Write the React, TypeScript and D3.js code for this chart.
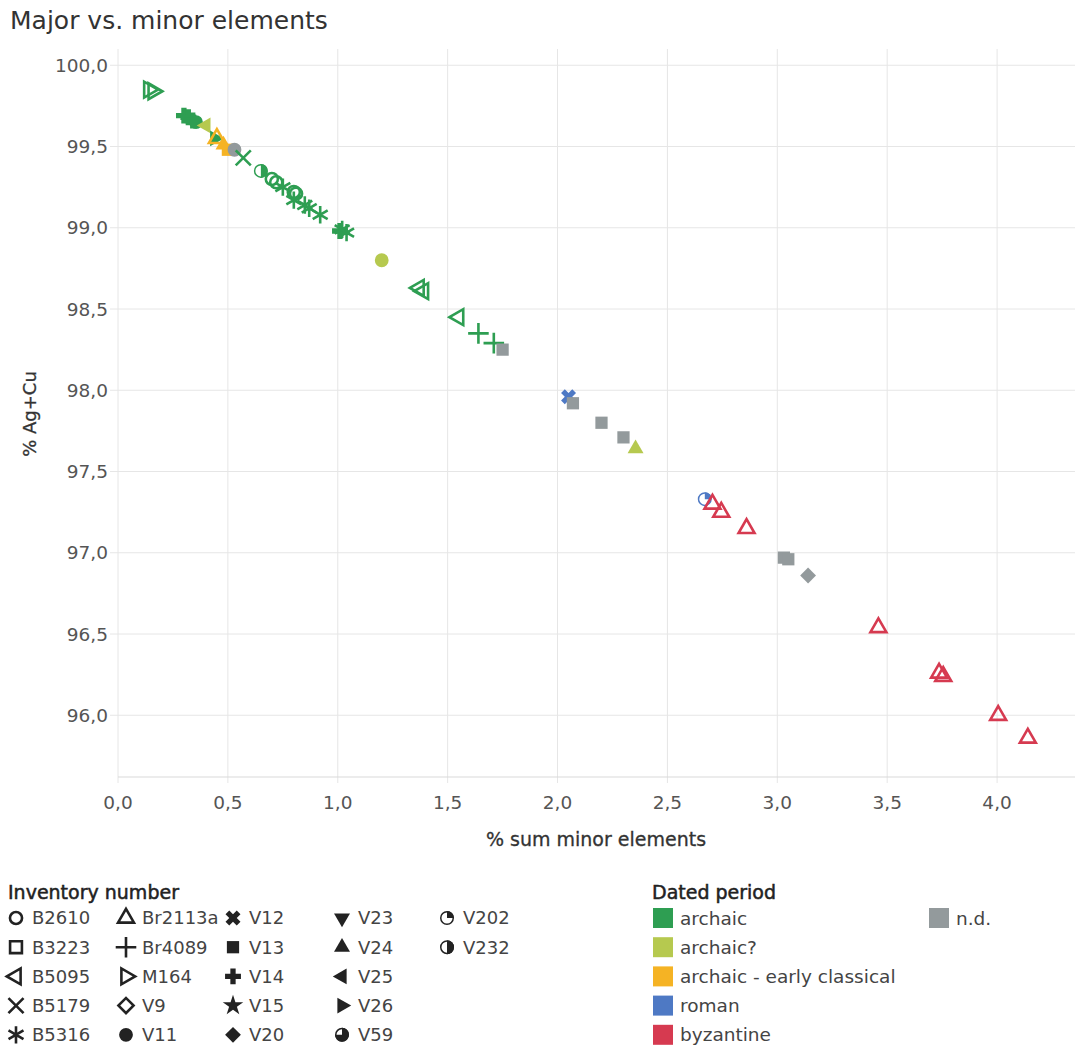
import * as d3 from "d3";

// values
const minorSum = [
  0.14, 0.16, 0.30, 0.32, 0.34, 0.355, 0.40, 0.44, 0.45, 0.48, 0.50, 0.53,
  0.57, 0.65, 0.70, 0.72, 0.75, 0.80, 0.81, 0.80, 0.85, 0.87, 0.92,
  1.01, 1.02, 1.04, 1.20, 1.37, 1.39, 1.55, 1.64, 1.71, 1.75,
  2.05, 2.07, 2.20, 2.30, 2.355, 2.67, 2.705, 2.745, 2.86, 3.03, 3.05, 3.14,
  3.46, 3.736, 3.755, 4.005, 4.14,
];
const agCu = [
  99.85, 99.84, 99.69, 99.68, 99.66, 99.65, 99.63, 99.55, 99.55, 99.51, 99.48, 99.48,
  99.43, 99.35, 99.30, 99.28, 99.25, 99.22, 99.21, 99.17, 99.14, 99.12, 99.08,
  98.98, 98.99, 98.97, 98.80, 98.63, 98.61, 98.45, 98.35, 98.29, 98.25,
  97.96, 97.92, 97.80, 97.71, 97.64, 97.33, 97.30, 97.25, 97.15, 96.97, 96.96, 96.86,
  96.54, 96.26, 96.24, 96.00, 95.86,
];
const inventory = [
  "M164", "M164", "V14", "V14", "V14", "V11", "V25", "V26", "Br2113a", "V24", "V13", "V11",
  "B5179", "V232", "B2610", "B2610", "B5316", "B2610", "B2610", "B5316", "B5316", "B5316", "B5316",
  "V14", "B5316", "B5316", "V11", "B5095", "B5095", "B5095", "Br4089", "Br4089", "V13",
  "V12", "V13", "V13", "V13", "V24", "V202", "Br2113a", "Br2113a", "Br2113a", "V13", "V13", "V20",
  "Br2113a", "Br2113a", "Br2113a", "Br2113a", "Br2113a",
];
const period = [
  "archaic", "archaic", "archaic", "archaic", "archaic", "archaic", "archaic?", "archaic",
  "archaic - early classical", "archaic - early classical", "archaic - early classical", "n.d.",
  "archaic", "archaic", "archaic", "archaic", "archaic", "archaic", "archaic", "archaic", "archaic", "archaic", "archaic",
  "archaic", "archaic", "archaic", "archaic?", "archaic", "archaic", "archaic", "archaic", "archaic", "n.d.",
  "roman", "n.d.", "n.d.", "n.d.", "archaic?", "roman", "byzantine", "byzantine", "byzantine", "n.d.", "n.d.", "n.d.",
  "byzantine", "byzantine", "byzantine", "byzantine", "byzantine",
];

const xTicks = [0, 0.5, 1, 1.5, 2, 2.5, 3, 3.5, 4];
const yTicks = [96, 96.5, 97, 97.5, 98, 98.5, 99, 99.5, 100];

const inventoryColumns = [
  ["B2610", "B3223", "B5095", "B5179", "B5316"],
  ["Br2113a", "Br4089", "M164", "V9", "V11"],
  ["V12", "V13", "V14", "V15", "V20"],
  ["V23", "V24", "V25", "V26", "V59"],
  ["V202", "V232"],
];
const periodColumns = [
  ["archaic", "archaic?", "archaic - early classical", "roman", "byzantine"],
  ["n.d."],
];
const periodColors = ["#2e9e52", "#b6c94f", "#f5b324", "#4e79c4", "#d63a50", "#939a9c"];

const colorScale = d3
  .scaleOrdinal<string, string>()
  .domain(["archaic", "archaic?", "archaic - early classical", "roman", "byzantine", "n.d."])
  .range(periodColors);

const FONT = "'DejaVu Sans', 'Noto Sans', sans-serif";

const width = 1075;
const height = 1047;

const x = d3.scaleLinear().domain([0, 4.35]).range([118, 1074]);
const y = d3.scaleLinear().domain([95.62, 100.1]).range([777, 49]);

const fmt = (v: number) => d3.format(".1f")(v).replace(".", ",");

type Spec = { sym?: d3.SymbolType; fill: boolean; rot?: number; size?: number; part?: number };
const shapes: Record<string, Spec> = {
  B2610: { sym: d3.symbolCircle, fill: false, size: 115 },
  B3223: { sym: d3.symbolSquare, fill: false, size: 140 },
  B5095: { sym: d3.symbolTriangle, fill: false, rot: -90, size: 110 },
  B5179: { sym: d3.symbolTimes, fill: false, size: 150 },
  B5316: { sym: d3.symbolAsterisk, fill: false, size: 210 },
  Br2113a: { sym: d3.symbolTriangle, fill: false, size: 110 },
  Br4089: { sym: d3.symbolPlus, fill: false, size: 140 },
  M164: { sym: d3.symbolTriangle, fill: false, rot: 90, size: 110 },
  V9: { sym: d3.symbolSquare, fill: false, rot: 45, size: 115 },
  V11: { sym: d3.symbolCircle, fill: true, size: 150 },
  V12: { sym: d3.symbolCross, fill: true, rot: 45, size: 140 },
  V13: { sym: d3.symbolSquare, fill: true, size: 150 },
  V14: { sym: d3.symbolCross, fill: true, size: 140 },
  V15: { sym: d3.symbolStar, fill: true, size: 130 },
  V20: { sym: d3.symbolSquare, fill: true, rot: 45, size: 125 },
  V23: { sym: d3.symbolTriangle, fill: true, rot: 180, size: 110 },
  V24: { sym: d3.symbolTriangle, fill: true, size: 110 },
  V25: { sym: d3.symbolTriangle, fill: true, rot: -90, size: 110 },
  V26: { sym: d3.symbolTriangle, fill: true, rot: 90, size: 110 },
  V59: { fill: false, part: 1.5 },
  V202: { fill: false, part: 0.5 },
  V232: { fill: false, part: 1 },
};

function Marker({ inv, color, cx, cy }: { inv: string; color: string; cx: number; cy: number }) {
  const s = shapes[inv];
  if (s.part !== undefined) {
    const r = 7;
    const wedge = d3.arc()({ innerRadius: 0, outerRadius: r, startAngle: 0, endAngle: s.part * Math.PI }) || "";
    return (
      <g transform={`translate(${cx},${cy})`}>
        <circle r={r - 0.75} fill="none" stroke={color} strokeWidth={1.5} />
        <path d={wedge} fill={color} />
      </g>
    );
  }
  const d = d3.symbol(s.sym!, s.size ?? 120)() || "";
  return (
    <path
      d={d}
      transform={`translate(${cx},${cy}) rotate(${s.rot ?? 0})`}
      fill={s.fill ? color : "none"}
      stroke={s.fill ? "none" : color}
      strokeWidth={s.fill ? 0 : 2.6}
      strokeLinejoin="miter"
    />
  );
}

export default function App() {
  const rowY = (i: number) => 918 + i * 29.2;
  const invColX = [16, 126, 233, 342, 447];
  return (
    <svg width={width} height={height} style={{ position: "absolute", left: 0, top: 0, fontFamily: FONT }}>
      <rect width={width} height={height} fill="#fff" />
      <text x={10} y={29} fontSize={25} fill="#333">Major vs. minor elements</text>

      {/* grid */}
      {xTicks.map((t) => (
        <line key={`gx${t}`} x1={x(t)} x2={x(t)} y1={49} y2={783} stroke="#e6e6e6" strokeWidth={1} />
      ))}
      {yTicks.map((t) => (
        <line key={`gy${t}`} x1={110} x2={width} y1={y(t)} y2={y(t)} stroke="#e6e6e6" strokeWidth={1} />
      ))}
      <line x1={118} x2={width} y1={777} y2={777} stroke="#d9d9d9" />

      {/* tick labels */}
      {yTicks.map((t) => (
        <text key={`ty${t}`} x={108} y={y(t)} dy="0.36em" textAnchor="end" fontSize={18.5} fill="#555">
          {fmt(t)}
        </text>
      ))}
      {xTicks.map((t) => (
        <text key={`tx${t}`} x={x(t)} y={802} dy="0.36em" textAnchor="middle" fontSize={18.5} fill="#555">
          {fmt(t)}
        </text>
      ))}
      <text x={596} y={846} textAnchor="middle" fontSize={19} fill="#333" stroke="#333" strokeWidth={0.3}>% sum minor elements</text>
      <text transform="translate(36,414) rotate(-90)" textAnchor="middle" fontSize={18} fill="#333" stroke="#333" strokeWidth={0.3}>% Ag+Cu</text>

      {/* marks */}
      {minorSum.map((v, i) => (
        <Marker key={i} inv={inventory[i]} color={colorScale(period[i])} cx={x(v)} cy={y(agCu[i])} />
      ))}

      {/* legend: inventory number */}
      <text x={8} y={899} fontSize={19} fill="#222" stroke="#222" strokeWidth={0.5}>Inventory number</text>
      {inventoryColumns.map((col, ci) =>
        col.map((inv, ri) => (
          <g key={inv}>
            <Marker inv={inv} color="#222" cx={invColX[ci]} cy={rowY(ri)} />
            <text x={invColX[ci] + 16} y={rowY(ri)} dy="0.36em" fontSize={18} fill="#444">{inv}</text>
          </g>
        ))
      )}

      {/* legend: dated period */}
      <text x={652} y={899} fontSize={19} fill="#222" stroke="#222" strokeWidth={0.5}>Dated period</text>
      {periodColumns.map((col, ci) =>
        col.map((p, ri) => (
          <g key={p}>
            <rect x={ci === 0 ? 653 : 929} y={rowY(ri) - 10} width={20} height={20} fill={colorScale(p)} />
            <text x={(ci === 0 ? 653 : 929) + 27} y={rowY(ri)} dy="0.36em" fontSize={18.5} fill="#444">{p}</text>
          </g>
        ))
      )}
    </svg>
  );
}
